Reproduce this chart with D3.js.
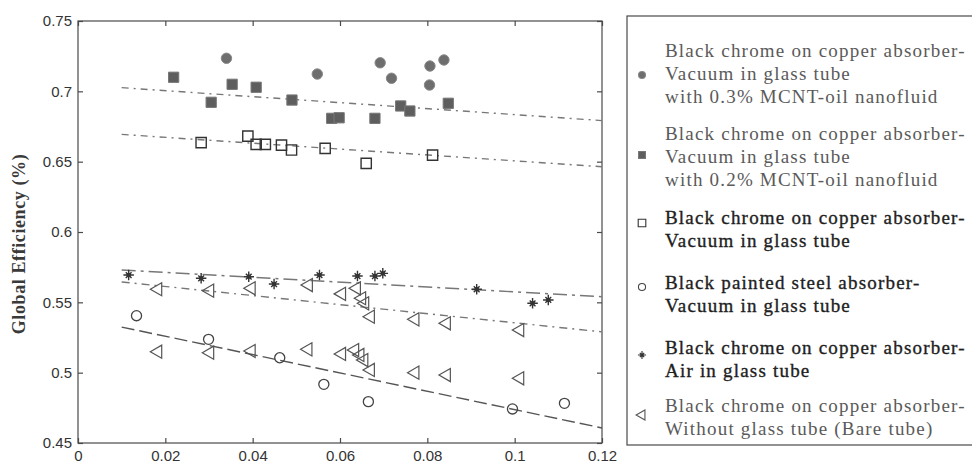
<!DOCTYPE html>
<html>
<head>
<meta charset="utf-8">
<script src="https://cdn.jsdelivr.net/npm/d3@7"></script>
<style>
  html, body { margin: 0; padding: 0; background: #fff; }
  svg { display: block; }
  .serif { font-family: "Liberation Serif", "DejaVu Serif", serif; }
</style>
</head>
<body>
<svg id="chart" width="972" height="464"></svg>
<script>
// ---------- data ----------
const xTicks = [0, 0.02, 0.04, 0.06, 0.08, 0.1, 0.12];
const xTickLabels = ["0", "0.02", "0.04", "0.06", "0.08", "0.1", "0.12"];
const yTicks = [0.45, 0.5, 0.55, 0.6, 0.65, 0.7, 0.75];
const yTickLabels = ["0.45", "0.5", "0.55", "0.6", "0.65", "0.7", "0.75"];
const yAxisTitle = "Global Efficiency (%)";

// Black chrome on copper – vacuum – 0.3% MCNT (filled circles)
const mcnt03X = [0.034, 0.0548, 0.0692, 0.0718, 0.0806, 0.0805, 0.0838];
const mcnt03Y = [0.7235, 0.7123, 0.7203, 0.7093, 0.718, 0.7045, 0.7223];

// Black chrome on copper – vacuum – 0.2% MCNT (filled squares)
const mcnt02X = [0.0219, 0.0305, 0.0353, 0.0408, 0.049, 0.0581, 0.0598, 0.068, 0.0739, 0.076, 0.0848];
const mcnt02Y = [0.710, 0.6922, 0.705, 0.7029, 0.6938, 0.6808, 0.6812, 0.6808, 0.6896, 0.686, 0.6915];

// Black chrome on copper – vacuum (open squares)
const vacX = [0.0282, 0.0389, 0.0408, 0.0429, 0.0466, 0.0489, 0.0566, 0.066, 0.0812];
const vacY = [0.6635, 0.6682, 0.6623, 0.6623, 0.6618, 0.6583, 0.6595, 0.6488, 0.6547];

// Black painted steel – vacuum (open circles)
const steelX = [0.0134, 0.0299, 0.0462, 0.0563, 0.0665, 0.0995, 0.1114];
const steelY = [0.5405, 0.5237, 0.5106, 0.4917, 0.4794, 0.4742, 0.4782];

// Black chrome on copper – air in glass tube (stars)
const airX = [0.0116, 0.0282, 0.0391, 0.0449, 0.0553, 0.064, 0.068, 0.0698, 0.0913, 0.1041, 0.1077];
const airY = [0.5694, 0.5671, 0.5682, 0.563, 0.5694, 0.5687, 0.5687, 0.5706, 0.5593, 0.5493, 0.5517];

// Black chrome on copper – bare tube (left triangles)
const bareX = [0.0183, 0.0302, 0.0397, 0.0528, 0.0604, 0.0638, 0.065, 0.0657, 0.067, 0.0772, 0.0844, 0.1012,
               0.0183, 0.0302, 0.0397, 0.0527, 0.0604, 0.0634, 0.0646, 0.0655, 0.067, 0.0772, 0.0844, 0.1012];
const bareY = [0.5593, 0.5583, 0.560, 0.5623, 0.556, 0.560, 0.5529, 0.5493, 0.5398, 0.5379, 0.5351, 0.5303,
               0.5149, 0.5142, 0.5154, 0.5166, 0.5133, 0.5161, 0.5126, 0.509, 0.5019, 0.500, 0.4983, 0.496];

// fitted trend lines (start/end values)
const fitNames = ["mcnt", "vacuum", "air", "bare", "steel"];
const fitX0 = [0.01, 0.01, 0.01, 0.01, 0.01];
const fitX1 = [0.12, 0.12, 0.12, 0.12, 0.12];
const fitY0 = [0.7026, 0.6694, 0.573, 0.5645, 0.5324];
const fitY1 = [0.6792, 0.6464, 0.554, 0.529, 0.4607];

// legend
const legendLines = [
  ["Black chrome on copper absorber-", "Vacuum in glass tube", "with 0.3% MCNT-oil nanofluid"],
  ["Black chrome on copper absorber-", "Vacuum in glass tube", "with 0.2% MCNT-oil nanofluid"],
  ["Black chrome on copper absorber-", "Vacuum in glass tube"],
  ["Black painted steel absorber-", "Vacuum in glass tube"],
  ["Black chrome on copper absorber-", "Air in glass tube"],
  ["Black chrome on copper absorber-", "Without glass tube (Bare tube)"]
];

// ---------- layout ----------
const svg = d3.select("#chart");
const L = 78, R = 602, T = 21, B = 443;
const x = d3.scaleLinear().domain([0, 0.12]).range([L, R]);
const y = d3.scaleLinear().domain([0.45, 0.75]).range([B, T]);

const axisColor = "#4a4a4a";
const tickFont = "Liberation Sans, Arial, sans-serif";
const serifFont = "Liberation Serif, DejaVu Serif, serif";

// plot frame
svg.append("rect").attr("x", L).attr("y", T).attr("width", R - L).attr("height", B - T)
  .attr("fill", "none").attr("stroke", axisColor).attr("stroke-width", 1.2);

function styleAxis(g, showLabels) {
  g.select(".domain").remove();
  g.selectAll(".tick line").attr("stroke", axisColor).attr("stroke-width", 1.2);
  g.attr("font-family", tickFont).attr("font-size", 15);
  g.selectAll(".tick text").attr("fill", "#333");
  if (!showLabels) g.selectAll(".tick text").remove();
}

svg.append("g").attr("transform", `translate(0,${B})`)
  .call(d3.axisBottom(x).tickValues(xTicks).tickFormat((d, i) => xTickLabels[i]).tickSize(-5).tickPadding(7))
  .call(g => styleAxis(g, true));
svg.append("g").attr("transform", `translate(0,${T})`)
  .call(d3.axisTop(x).tickValues(xTicks).tickSize(-5))
  .call(g => styleAxis(g, false));
svg.append("g").attr("transform", `translate(${L},0)`)
  .call(d3.axisLeft(y).tickValues(yTicks).tickFormat((d, i) => yTickLabels[i]).tickSize(-5).tickPadding(6))
  .call(g => styleAxis(g, true));
svg.append("g").attr("transform", `translate(${R},0)`)
  .call(d3.axisRight(y).tickValues(yTicks).tickSize(-5))
  .call(g => styleAxis(g, false));

// y axis title
svg.append("text")
  .attr("class", "serif")
  .attr("transform", `translate(25,${(T + B) / 2 + 12}) rotate(-90)`)
  .attr("text-anchor", "middle")
  .attr("font-family", serifFont)
  .attr("font-size", 18).attr("font-weight", "bold").attr("letter-spacing", 0.6)
  .attr("fill", "#3a3a3a")
  .text(yAxisTitle);

// ---------- trend lines ----------
const dashes = {
  mcnt: "7,5,2,5",
  vacuum: "7,5,2,5",
  air: "14,5,3,5",
  bare: "8,5,2,5",
  steel: "13,5"
};
const lineGen = d3.line().x(d => x(d[0])).y(d => y(d[1]));
fitNames.forEach((n, i) => {
  svg.append("path")
    .datum([[fitX0[i], fitY0[i]], [fitX1[i], fitY1[i]]])
    .attr("d", lineGen)
    .attr("fill", "none")
    .attr("stroke", n === "steel" ? "#555" : "#777")
    .attr("stroke-width", 1.4)
    .attr("stroke-dasharray", dashes[n]);
});

// ---------- markers ----------
const starSym = {
  draw(ctx, size) {
    const r = Math.sqrt(size) / 2;
    ctx.moveTo(-r, 0); ctx.lineTo(r, 0);
    ctx.moveTo(0, -r); ctx.lineTo(0, r);
    const q = r * 0.55;
    ctx.moveTo(-q, -q); ctx.lineTo(q, q);
    ctx.moveTo(-q, q); ctx.lineTo(q, -q);
  }
};

function zip(xs, ys) { return xs.map((v, i) => [v, ys[i]]); }

const series = [
  { name: "mcnt03", data: zip(mcnt03X, mcnt03Y), type: d3.symbolCircle, size: 85, fill: "#6e6e6e", stroke: "#888", sw: 1, rot: 0 },
  { name: "mcnt02", data: zip(mcnt02X, mcnt02Y), type: d3.symbolSquare, size: 105, fill: "#5e5e5e", stroke: "#777", sw: 1, rot: 0 },
  { name: "vacuum", data: zip(vacX, vacY), type: d3.symbolSquare, size: 105, fill: "none", stroke: "#333", sw: 1.4, rot: 0 },
  { name: "steel", data: zip(steelX, steelY), type: d3.symbolCircle, size: 80, fill: "none", stroke: "#444", sw: 1.3, rot: 0 },
  { name: "air", data: zip(airX, airY), type: starSym, size: 110, fill: "none", stroke: "#333", sw: 1.4, rot: 0 },
  { name: "bare", data: zip(bareX, bareY), type: d3.symbolTriangle, size: 75, fill: "none", stroke: "#555", sw: 1.2, rot: -90 }
];

series.forEach(s => {
  const sym = d3.symbol().type(s.type).size(s.size);
  svg.append("g").selectAll("path").data(s.data).join("path")
    .attr("transform", d => `translate(${x(d[0])},${y(d[1])}) rotate(${s.rot})`)
    .attr("d", sym)
    .attr("fill", s.fill)
    .attr("stroke", s.stroke)
    .attr("stroke-width", s.sw);
  if (s.name === "air") {
    svg.append("g").selectAll("circle").data(s.data).join("circle")
      .attr("cx", d => x(d[0])).attr("cy", d => y(d[1])).attr("r", 2.2).attr("fill", "#333");
  }
});

// ---------- legend ----------
const LX = 627, LY = 16, LB = 445;
svg.append("rect").attr("x", LX).attr("y", LY).attr("width", 972 - LX + 10).attr("height", LB - LY)
  .attr("fill", "#fff").attr("stroke", axisColor).attr("stroke-width", 1.2);

const entryTextY = [50, 133, 217, 282, 347, 405];
const entryMarkY = [75, 155, 223, 287, 355, 415];
const entryDark = [false, false, true, true, true, false];
const lineGap = 23;
const markerScale = [0.45, 0.45, 0.55, 0.5, 0.6, 0.6];

legendLines.forEach((lines, i) => {
  const s = series[i];
  const sym = d3.symbol().type(s.type).size(s.size * markerScale[i]);
  svg.append("path")
    .attr("transform", `translate(642,${entryMarkY[i]}) rotate(${s.rot})`)
    .attr("d", sym)
    .attr("fill", s.fill).attr("stroke", s.stroke).attr("stroke-width", 1.1);
  if (s.name === "air") {
    svg.append("circle").attr("cx", 642).attr("cy", entryMarkY[i]).attr("r", 1.6).attr("fill", "#333");
  }
  const t = svg.append("text")
    .attr("class", "serif")
    .attr("font-family", serifFont)
    .attr("font-size", 19)
    .attr("letter-spacing", 1.2)
    .attr("fill", entryDark[i] ? "#1e1e1e" : "#5a5a5a")
    .attr("stroke", entryDark[i] ? "#1e1e1e" : "none")
    .attr("stroke-width", entryDark[i] ? 0.35 : 0);
  lines.forEach((ln, j) => {
    t.append("tspan").attr("x", 665).attr("y", entryTextY[i] + j * lineGap).attr("dy", "0.35em")
      .attr("font-family", serifFont).text(ln);
  });
});
</script>
</body>
</html>
